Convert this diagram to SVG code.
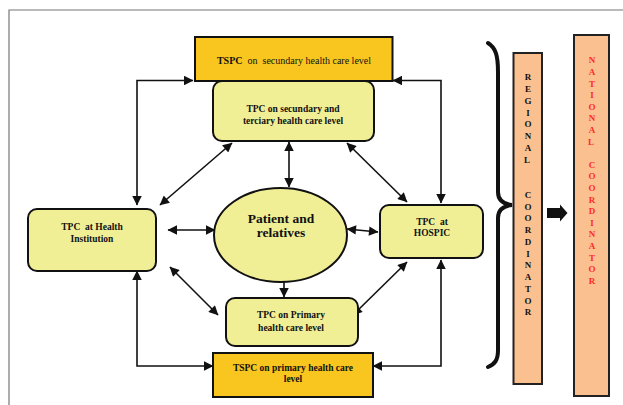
<svg xmlns="http://www.w3.org/2000/svg" width="623" height="405" viewBox="0 0 623 405">
<defs>
<style>
.gold{fill:#F8C61E;stroke:#111;stroke-width:2}
.lite{fill:#F0EF96;stroke:#111;stroke-width:2}
.coord{fill:#FAC08F;stroke:#222;stroke-width:2}
.t{font-family:"Liberation Serif","Times New Roman",serif;font-weight:bold;font-size:9.5px;fill:#111;text-anchor:middle}
.big{font-size:13.5px}
.n{font-weight:normal}
.v{font-family:"Liberation Serif","Times New Roman",serif;font-weight:bold;font-size:9px;text-anchor:middle}
.c{fill:none;stroke:#111;stroke-width:1.6;marker-start:url(#ah);marker-end:url(#ah)}
</style>
<marker id="ah" viewBox="0 0 10 10" refX="9.5" refY="5" markerUnits="userSpaceOnUse" markerWidth="10.5" markerHeight="9.5" orient="auto-start-reverse">
<path d="M0,0 L10,5 L0,10 z" fill="#111"/>
</marker>
</defs>
<rect x="0" y="0" width="623" height="405" fill="#fff"/>
<path d="M9,405 V10 H623" fill="none" stroke="#777" stroke-width="1.2"/>

<g id="connectors">
<path class="c" d="M137,205 V80.5 H193"/>
<path class="c" d="M441,203 V80.5 H393"/>
<path class="c" d="M137,271 V366 H213"/>
<path class="c" d="M441,260 V366 H373"/>
<path class="c" d="M232,143 L160,205"/>
<path class="c" d="M289,142 V187"/>
<path class="c" d="M347,143 L407,202"/>
<path class="c" d="M168,230 H215"/>
<path class="c" d="M347,229 L378,232"/>
<path class="c" d="M284,267 V297"/>
<path class="c" d="M170,267 L218,315"/>
<path class="c" d="M407,262 L353,315"/>
<polygon points="547,208 560,208 560,204.5 567.5,213 560,221.5 560,218 547,218" fill="#111"/>
<path d="M488,43 C496,48 498,56 498,72 V192 C498,200 503,204 512,205 C503,206 498,210 498,218 V350 C498,360 495,364 488,367" fill="none" stroke="#111" stroke-width="4" stroke-linecap="round"/>
</g>

<g id="tspc-secondary">
<rect class="gold" x="195" y="37" width="197.5" height="44"/>
<text class="t" x="294" y="63.5" xml:space="preserve"><tspan font-size="10">TSPC</tspan><tspan class="n" font-size="10">  on  secundary health care level</tspan></text>
</g>

<g id="tpc-secondary">
<rect class="lite" x="213" y="81" width="161" height="60" rx="9"/>
<text class="t" x="293" y="112">TPC on secundary and</text>
<text class="t" x="293" y="124">terciary health care level</text>
</g>

<g id="tpc-health-institution">
<rect class="lite" x="28" y="209" width="128" height="62" rx="9"/>
<text class="t" x="92" y="230" xml:space="preserve">TPC  at Health</text>
<text class="t" x="92" y="241.5">Institution</text>
</g>

<g id="patient">
<ellipse cx="280.5" cy="235" rx="66.5" ry="47" fill="#F0EF96" stroke="#111" stroke-width="2"/>
<text class="t big" x="281" y="222.5">Patient and</text>
<text class="t big" x="281" y="236.5">relatives</text>
</g>

<g id="tpc-hospic">
<rect class="lite" x="380" y="205" width="103" height="53" rx="9"/>
<text class="t" x="432" y="224.5" xml:space="preserve">TPC  at</text>
<text class="t" x="432" y="235.5">HOSPIC</text>
</g>

<g id="tpc-primary">
<rect class="lite" x="226" y="298" width="132" height="48" rx="9"/>
<text class="t" x="291" y="317.5">TPC on Primary</text>
<text class="t" x="291" y="330.5">health care level</text>
</g>

<g id="tspc-primary">
<rect class="gold" x="213" y="353" width="160" height="44"/>
<text class="t" x="293" y="370.5">TSPC on primary health care</text>
<text class="t" x="293" y="381.5">level</text>
</g>

<g id="regional-coordinator">
<rect class="coord" x="513.5" y="53" width="28.5" height="331"/>
<text class="v" fill="#111">
<tspan x="528" y="80.3">R</tspan><tspan x="528" y="92">E</tspan><tspan x="528" y="103.8">G</tspan><tspan x="528" y="115.5">I</tspan><tspan x="528" y="127.3">O</tspan><tspan x="528" y="139">N</tspan><tspan x="528" y="150.8">A</tspan><tspan x="528" y="162.5">L</tspan>
<tspan x="528" y="197.8">C</tspan><tspan x="528" y="209.5">O</tspan><tspan x="528" y="221.3">O</tspan><tspan x="528" y="233">R</tspan><tspan x="528" y="244.8">D</tspan><tspan x="528" y="256.5">I</tspan><tspan x="528" y="268.3">N</tspan><tspan x="528" y="280">A</tspan><tspan x="528" y="291.8">T</tspan><tspan x="528" y="303.5">O</tspan><tspan x="528" y="315.3">R</tspan>
</text>
</g>

<g id="national-coordinator">
<rect class="coord" x="574" y="35" width="35" height="361"/>
<text class="v" fill="#FF2A2A">
<tspan x="592" y="63.3">N</tspan><tspan x="592" y="74.9">A</tspan><tspan x="592" y="86.5">T</tspan><tspan x="592" y="98.1">I</tspan><tspan x="592" y="109.7">O</tspan><tspan x="592" y="121.3">N</tspan><tspan x="592" y="132.9">A</tspan><tspan x="592" y="144.5">L</tspan>
<tspan x="592" y="167.7">C</tspan><tspan x="592" y="179.3">O</tspan><tspan x="592" y="190.9">O</tspan><tspan x="592" y="202.5">R</tspan><tspan x="592" y="214.1">D</tspan><tspan x="592" y="225.7">I</tspan><tspan x="592" y="237.3">N</tspan><tspan x="592" y="248.9">A</tspan><tspan x="592" y="260.5">T</tspan><tspan x="592" y="272.1">O</tspan><tspan x="592" y="283.7">R</tspan>
</text>
</g>
</svg>
